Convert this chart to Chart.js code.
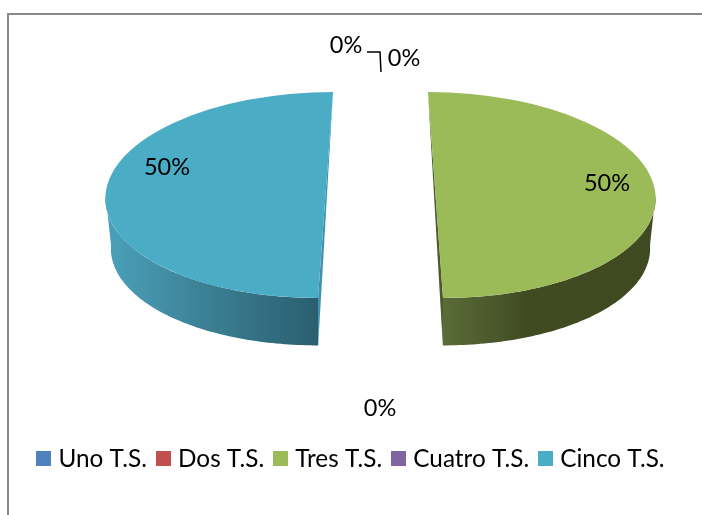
<!DOCTYPE html>
<html><head><meta charset="utf-8">
<style>html,body{margin:0;padding:0;background:#fff}canvas{display:block}</style>
<script src="https://cdn.jsdelivr.net/npm/chart.js@4/dist/chart.umd.min.js"></script>
</head><body><canvas id="c" width="702" height="515"></canvas>
<script>
const categories = ['Uno T.S.', 'Dos T.S.', 'Tres T.S.', 'Cuatro T.S.', 'Cinco T.S.'];
const values = [0, 0, 50, 0, 50];
const colors = ['#4F81BD', '#C0504D', '#9BBB59', '#8064A2', '#4BACC6'];
const FONT = 'Lato, sans-serif';

// Styling of the drawing (not data)
const center = {x: 380.5, y: 195};
const explode = 55, squash = 103 / 220, depth = 50, bottomShrink = 0.975;
const sliceStyles = {
  2: {shear: 0.073, x0: 443, x1: 656, stops: [[0, '#5A6C38'], [0.4, '#404B21'], [1, '#3F4A20']], wall: '#4A5A2A'},
  4: {shear: -0.073, x0: 112, x1: 319, stops: [[0, '#4A9FB8'], [0.5, '#3A7D91'], [1, '#2A5E6F']], wall: '#4091AB'}
};
const labelSpots = [[346, 45], [404, 58], null, [380, 408], null];
const bigSpots = {2: [607, 183], 4: [167, 167]};
const leader = [[367, 52], [380, 52], [381, 72]];

function hub(arc) {
  const mid = (arc.startAngle + arc.endAngle) / 2;
  return {x: center.x + explode * Math.cos(mid), y: center.y + squash * explode * Math.sin(mid)};
}

function pt(arc, a, lower, k) {
  const h = hub(arc);
  const r = arc.outerRadius * (lower ? bottomShrink : 1);
  const py = squash * r * Math.sin(a);
  return {
    x: h.x + r * Math.cos(a) + k * py,
    y: h.y + py + (lower ? depth : 0)
  };
}

function swatch(color) {
  const s = document.createElement('canvas');
  s.width = 15; s.height = 15;
  const x = s.getContext('2d');
  x.fillStyle = color; x.fillRect(0, 0, 15, 15);
  return s;
}

const pie3d = {
  id: 'pie3d',
  beforeDraw(chart) {
    const c = chart.ctx;
    c.save();
    c.fillStyle = '#fff'; c.fillRect(0, 0, chart.width, chart.height);
    c.fillStyle = '#898989';
    c.fillRect(7, 13, chart.width - 7, 2);
    c.fillRect(7, 13, 2, chart.height - 13);
    c.restore();
  },
  beforeDatasetsDraw(chart) {
    const c = chart.ctx, arcs = chart.getDatasetMeta(0).data;
    arcs.forEach((arc, i) => {
      if (arc.circumference <= 0 || !sliceStyles[i]) return;
      const st = sliceStyles[i], k = st.shear;
      const steps = 80;
      const a0 = Math.max(arc.startAngle, 0), a1 = Math.min(arc.endAngle, Math.PI);
      const g = c.createLinearGradient(st.x0, 0, st.x1, 0);
      st.stops.forEach(s => g.addColorStop(s[0], s[1]));
      c.save();
      c.beginPath();
      for (let n = 0; n <= steps; n++) {
        const p = pt(arc, a0 + (a1 - a0) * n / steps, false, k);
        n ? c.lineTo(p.x, p.y) : c.moveTo(p.x, p.y);
      }
      for (let n = steps; n >= 0; n--) {
        const p = pt(arc, a0 + (a1 - a0) * n / steps, true, k);
        c.lineTo(p.x, p.y);
      }
      c.closePath();
      c.fillStyle = g; c.fill();
      const isRight = i === 2;
      const topApex = pt(arc, isRight ? arc.startAngle : arc.endAngle, false, k);
      const botApex = pt(arc, isRight ? arc.endAngle : arc.startAngle, false, k);
      const lowApex = pt(arc, isRight ? arc.endAngle : arc.startAngle, true, k);
      c.beginPath();
      c.moveTo(topApex.x, topApex.y); c.lineTo(botApex.x, botApex.y); c.lineTo(lowApex.x, lowApex.y);
      c.closePath();
      c.fillStyle = st.wall; c.fill();
      c.restore();
    });
  },
  beforeDatasetDraw(chart) {
    const c = chart.ctx, arcs = chart.getDatasetMeta(0).data;
    arcs.forEach((arc, i) => {
      if (arc.circumference <= 0) return;
      const k = sliceStyles[i] ? sliceStyles[i].shear : 0;
      const h = hub(arc);
      c.save();
      c.translate(h.x, h.y);
      c.transform(1, 0, k, 1, 0, 0);
      c.scale(1, squash);
      c.translate(-arc.x, -arc.y);
      arc.draw(c);
      c.restore();
    });
    return false;
  },
  afterDatasetsDraw(chart) {
    const c = chart.ctx;
    const total = values.reduce((s, v) => s + v, 0);
    c.save();
    c.fillStyle = '#000';
    c.font = '23.5px ' + FONT;
    c.textAlign = 'center'; c.textBaseline = 'middle';
    values.forEach((v, i) => {
      const spot = v > 0 ? bigSpots[i] : labelSpots[i];
      if (spot) c.fillText(Math.round(v / total * 100) + '%', spot[0], spot[1]);
    });
    c.strokeStyle = '#000'; c.lineWidth = 1.5;
    c.beginPath();
    leader.forEach((p, n) => n ? c.lineTo(p[0], p[1]) : c.moveTo(p[0], p[1]));
    c.stroke();
    c.restore();
  }
};

new Chart(document.getElementById('c'), {
  type: 'pie',
  data: {
    labels: categories,
    datasets: [{data: values, backgroundColor: colors, borderWidth: 0, clip: false}]
  },
  options: {
    responsive: false,
    animation: false,
    events: [],
    rotation: 0,
    radius: 220,
    layout: {padding: {left: 4, bottom: 34}},
    plugins: {
      tooltip: {enabled: false},
      legend: {
        position: 'bottom',
        labels: {
          color: '#000',
          font: {family: FONT, size: 24.3},
          usePointStyle: true,
          pointStyleWidth: 5,
          padding: 14,
          generateLabels(chart) {
            return Chart.controllers.doughnut.overrides.plugins.legend.labels.generateLabels(chart)
              .map((it, i) => Object.assign(it, {pointStyle: swatch(colors[i])}));
          }
        }
      }
    }
  },
  plugins: [pie3d]
});
</script></body></html>
